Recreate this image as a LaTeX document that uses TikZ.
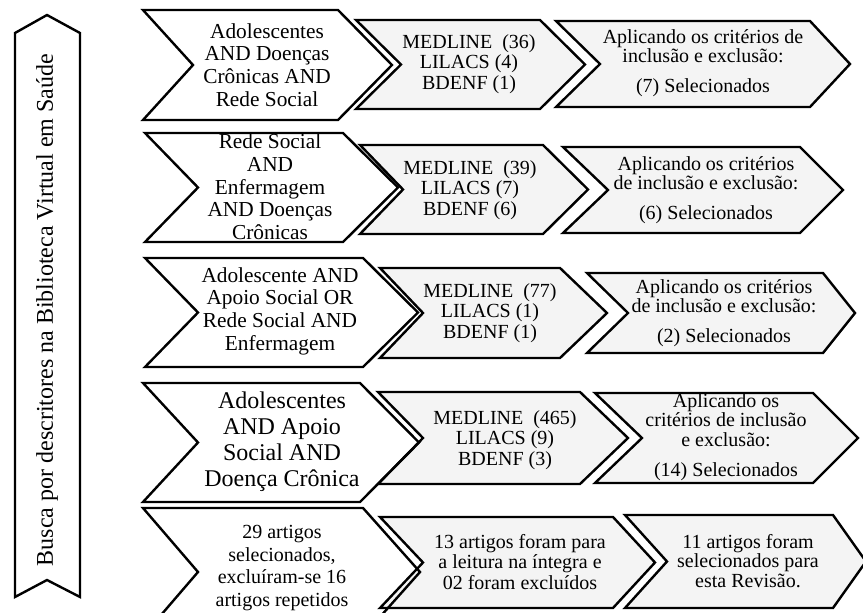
\documentclass[tikz,border=0pt]{standalone}
\usepackage{fontspec}
\setmainfont{Liberation Serif}
\usepackage{xcolor}
\definecolor{chevgray}{HTML}{F4F4F4}

% chevron outlines: left x / notch x / right x / tip x / top y / bottom y / fill
\def\chevlist{
  143/193/338/392/10/120/white,   356/401/540/585/20/109/chevgray,   556/600/810/850/21/107/chevgray,
  145/198/343/398/133/242/white,  360/403/543/588/145/234/chevgray,  563/608/800/843/147/233/chevgray,
  145/198/363/418/258/367/white,  380/423/560/607/268/358/chevgray,  587/628/823/855/273/353/chevgray,
  143/198/360/419/383/502/white,  378/423/580/628/392/484/chevgray,  595/642/813/858/393/483/chevgray,
  143/198/363/420/508/636/white,  380/423/613/655/517/608/chevgray,  625/667/833/866/515/608/chevgray}

\begin{document}
\begin{tikzpicture}[
  x=0.75pt, y=-0.75pt,
  chevline/.style={draw=black, line width=1.8pt, line join=miter},
  query/.style={align=center, inner sep=0pt, font=\fontsize{16}{17}\selectfont},
  base/.style={align=center, inner sep=0pt, font=\fontsize{15}{15.5}\selectfont},
  crit/.style={align=center, inner sep=0pt, font=\fontsize{15}{14.5}\selectfont},
  banner/.style={rotate=90, inner sep=0pt, font=\fontsize{18}{19}\selectfont},
]
\useasboundingbox (0,0) rectangle (863,613);
\clip (0,0) rectangle (863,613);

% Side banner
\draw[chevline, fill=white] (15,33) -- (47,15) -- (80,33) -- (80,597) -- (47,580) -- (15,597) -- cycle;
\node[banner] (busca) at (47,310) {Busca por descritores na Biblioteca Virtual em Saúde};

% Chevron fills
\foreach \xa/\xn/\xb/\xt/\ya/\yb/\col in \chevlist
  \fill[\col] (\xa,\ya) -- (\xb,\ya) -- (\xt,{(\ya+\yb)/2}) -- (\xb,\yb) -- (\xa,\yb) -- (\xn,{(\ya+\yb)/2}) -- cycle;

% Row 1
\node[query] (q1) at (267,65) {Adolescentes\\AND Doenças\\Crônicas AND\\Rede Social};
\node[base] (b1) at (469,64) {MEDLINE\ \ (36)\\LILACS (4)\\BDENF\ (1)};
\node[crit] (c1) at (703,63) {Aplicando os critérios de\\inclusão e exclusão:\\[8pt](7) Selecionados};

% Row 2
\node[query] (q2) at (270,187) {Rede Social\\AND\\Enfermagem\\AND Doenças\\Crônicas};
\node[base] (b2) at (470,190) {MEDLINE\ \ (39)\\LILACS (7)\\BDENF (6)};
\node[crit] (c2) at (706,190) {Aplicando os critérios\\de inclusão e exclusão:\\[8pt](6) Selecionados};

% Row 3
\node[query] (q3) at (280,311) {Adolescente AND\\Apoio Social OR\\Rede Social AND\\Enfermagem};
\node[base] (b3) at (490,313) {MEDLINE\ \ (77)\\LILACS (1)\\BDENF (1)};
\node[crit] (c3) at (724,313) {Aplicando os critérios\\de inclusão e exclusão:\\[8pt](2) Selecionados};

% Row 4
\node[query, font=\fontsize{18}{19.5}\selectfont] (q4) at (282,442) {Adolescentes\\AND Apoio\\Social AND\\Doença Crônica};
\node[base] (b4) at (505,440) {MEDLINE\ \ (465)\\LILACS (9)\\BDENF (3)};
\node[crit] (c4) at (726,437) {Aplicando os\\critérios de inclusão\\e exclusão:\\[8pt](14) Selecionados};

% Row 5
\node[query, font=\fontsize{15}{17}\selectfont] (q5) at (282,568) {29 artigos\\selecionados,\\excluíram-se 16\\artigos repetidos};
\node[base] (b5) at (520,562) {13 artigos foram para\\a leitura na íntegra e\\02 foram excluídos};
\node[crit] (c5) at (748,561) {11 artigos foram\\selecionados para\\esta Revisão.};

% Chevron outlines on top
\foreach \xa/\xn/\xb/\xt/\ya/\yb/\col in \chevlist
  \draw[chevline] (\xa,\ya) -- (\xb,\ya) -- (\xt,{(\ya+\yb)/2}) -- (\xb,\yb) -- (\xa,\yb) -- (\xn,{(\ya+\yb)/2}) -- cycle;

\end{tikzpicture}
\end{document}
